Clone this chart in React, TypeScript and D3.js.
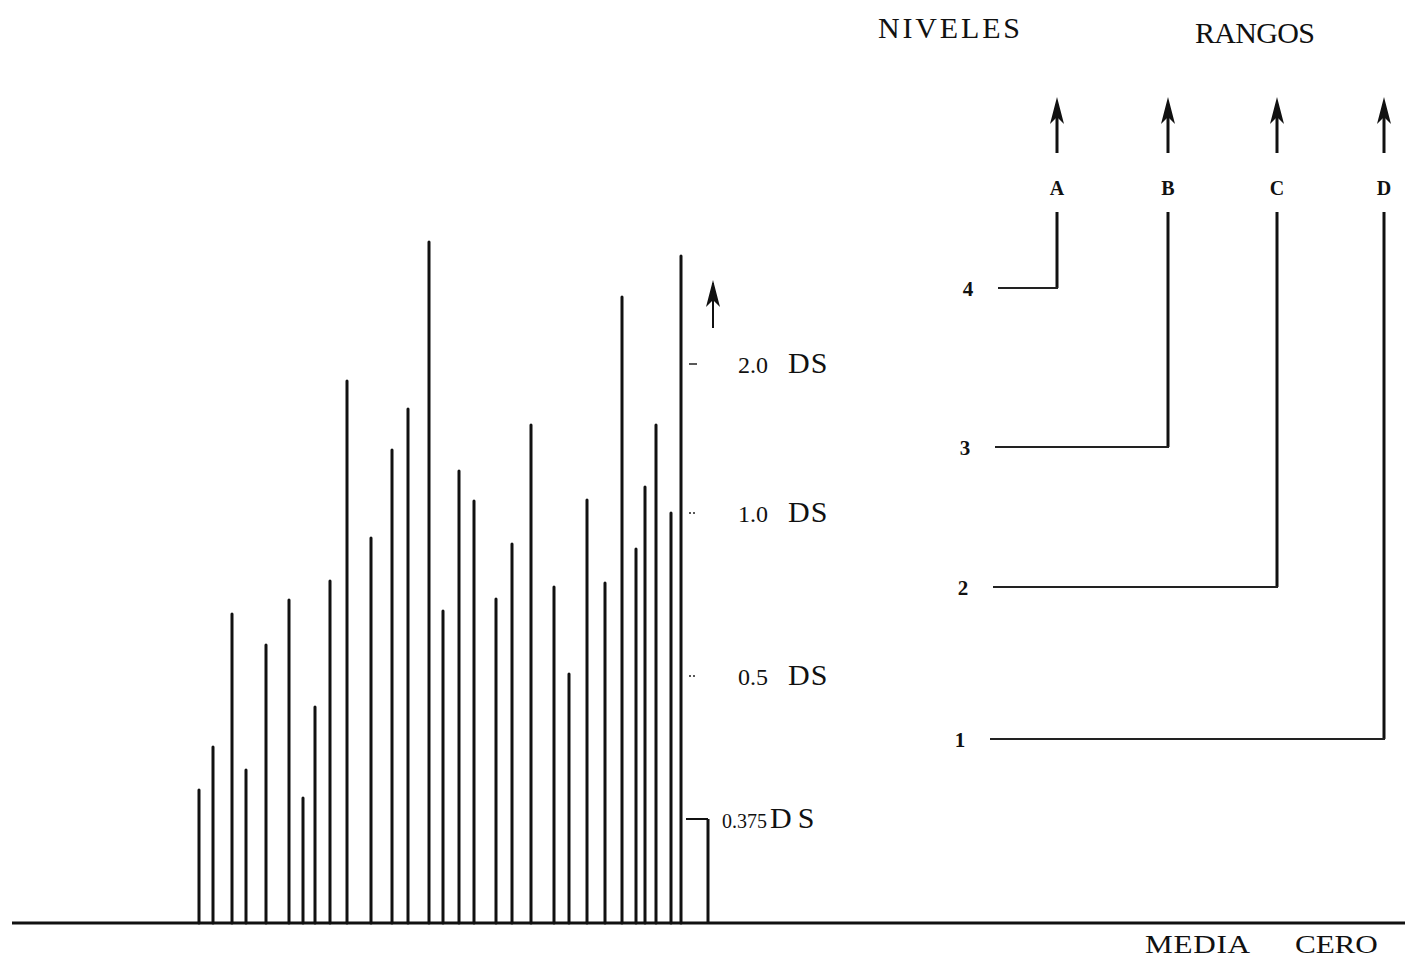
import * as d3 from "d3";

// posición horizontal de cada barra (unidades del eje) y su altura
const posicionBarras = [
  19.9, 21.3, 23.2, 24.6, 26.6, 28.9, 30.3, 31.5, 33.0, 34.7, 37.1, 39.2, 40.8, 42.9, 44.3,
  45.9, 47.4, 49.6, 51.2, 53.1, 55.4, 56.9, 58.7, 60.5, 62.2, 63.6, 64.5, 65.6, 67.1, 68.1,
];
const alturaBarras = [
  1.33, 1.76, 3.09, 1.53, 2.78, 3.23, 1.25, 2.16, 3.42, 5.42, 3.85, 4.73, 5.14, 6.81, 3.12,
  4.52, 4.22, 3.24, 3.79, 4.98, 3.36, 2.49, 4.23, 3.40, 6.26, 3.74, 4.36, 4.98, 4.10, 6.67,
];

// umbrales en desviaciones estándar
const etiquetasDS = ["2.0", "1.0", "0.5", "0.375"];
const valoresDS = [5.59, 4.1, 2.47, 1.04];

// diagrama de niveles y rangos
const rangos = ["A", "B", "C", "D"];
const posicionRangos = [105.7, 116.8, 127.7, 138.4];
const niveles = ["4", "3", "2", "1"];
const valoresNiveles = [6.35, 4.76, 3.36, 1.84];
const inicioNiveles = [99.8, 99.5, 99.3, 99.0];

const W = 1407;
const H = 965;

const x = d3.scaleLinear().domain([0, 140.7]).range([0, W]);
const y = d3.scaleLinear().domain([0, 9.23]).range([923, 0]);

const serif = "'Liberation Serif', 'Times New Roman', serif";

function arrowHead(cx: number, top: number): string {
  const p = d3.path();
  p.moveTo(cx, top);
  p.lineTo(cx - 7, top + 27);
  p.lineTo(cx, top + 20);
  p.lineTo(cx + 7, top + 27);
  p.closePath();
  return p.toString();
}

export default function App() {
  const ultima = posicionBarras[posicionBarras.length - 1];
  const xBracket = x(70.8);
  const xLabel = x(73.8);

  return (
    <svg
      width={W}
      height={H}
      viewBox={`0 0 ${W} ${H}`}
      style={{ position: "absolute", left: 0, top: 0, background: "#fff" }}
    >
      {/* barras */}
      <g stroke="#111" strokeWidth={3} strokeLinecap="round">
        {posicionBarras.map((p, i) => (
          <line key={i} x1={x(p)} x2={x(p)} y1={y(0)} y2={y(alturaBarras[i])} />
        ))}
      </g>

      {/* línea base */}
      <line x1={x(1.2)} x2={x(140.5)} y1={y(0)} y2={y(0)} stroke="#111" strokeWidth={3} />

      {/* marcas DS */}
      <g stroke="#222" strokeWidth={1.5}>
        {valoresDS.slice(0, 3).map((v, i) => (
          <line
            key={i}
            x1={x(ultima) + 8}
            x2={x(ultima) + 16}
            y1={y(v)}
            y2={y(v)}
            strokeDasharray={i === 0 ? undefined : "2 2"}
          />
        ))}
      </g>
      {/* corchete 0.375 DS */}
      <path
        d={`M${x(ultima) + 5},${y(valoresDS[3])} H${xBracket}`}
        fill="none"
        stroke="#111"
        strokeWidth={2}
      />
      <line x1={xBracket} x2={xBracket} y1={y(valoresDS[3])} y2={y(0)} stroke="#111" strokeWidth={3} />

      {/* flecha junto a la barra más alta */}
      <line x1={x(71.3)} x2={x(71.3)} y1={y(6.4)} y2={y(5.95)} stroke="#111" strokeWidth={2} />
      <path d={arrowHead(x(71.3), y(6.43))} fill="#111" />

      {/* etiquetas DS */}
      {etiquetasDS.map((t, i) => {
        const small = i === 3;
        return (
          <text key={t} x={small ? x(72.2) : xLabel} y={y(valoresDS[i]) + 9} fontFamily={serif} fill="#111">
            <tspan fontSize={small ? 20 : 24}>{t}</tspan>
            <tspan dx={small ? 3 : 20} fontSize={30} letterSpacing={small ? 6 : 1}>
              DS
            </tspan>
          </text>
        );
      })}

      {/* títulos */}
      <text x={878} y={38} fontFamily={serif} fontSize={30} textLength={142} lengthAdjust="spacing" fill="#111">
        NIVELES
      </text>
      <text x={1195} y={43} fontFamily={serif} fontSize={30} textLength={120} lengthAdjust="spacing" fill="#111">
        RANGOS
      </text>

      {/* rangos: flechas, letras y líneas verticales */}
      {rangos.map((r, i) => {
        const cx = x(posicionRangos[i]);
        return (
          <g key={r}>
            <line x1={cx} x2={cx} y1={y(8.1)} y2={y(7.7)} stroke="#111" strokeWidth={3} />
            <path d={arrowHead(cx, y(8.26))} fill="#111" />
            <text x={cx} y={195} textAnchor="middle" fontFamily={serif} fontSize={20} fontWeight="bold" fill="#111">
              {r}
            </text>
            <line x1={cx} x2={cx} y1={y(7.11)} y2={y(valoresNiveles[i])} stroke="#111" strokeWidth={3} />
          </g>
        );
      })}

      {/* niveles: líneas horizontales y números */}
      {niveles.map((n, i) => (
        <g key={n}>
          <line
            x1={x(inicioNiveles[i])}
            x2={x(posicionRangos[i]) + 1}
            y1={y(valoresNiveles[i])}
            y2={y(valoresNiveles[i])}
            stroke="#222"
            strokeWidth={2}
          />
          <text
            x={x(inicioNiveles[i]) - 30}
            y={y(valoresNiveles[i]) + 8}
            textAnchor="middle"
            fontFamily={serif}
            fontSize={21}
            fontWeight="bold"
            fill="#111"
          >
            {n}
          </text>
        </g>
      ))}

      {/* pie */}
      <g transform="translate(1145,953) scale(1.2,1)">
        <text x={0} y={0} fontFamily={serif} fontSize={26} textLength={87.5} lengthAdjust="spacing" fill="#111">
          MEDIA
        </text>
      </g>
      <g transform="translate(1295,953) scale(1.2,1)">
        <text x={0} y={0} fontFamily={serif} fontSize={26} textLength={69} lengthAdjust="spacing" fill="#111">
          CERO
        </text>
      </g>
    </svg>
  );
}
